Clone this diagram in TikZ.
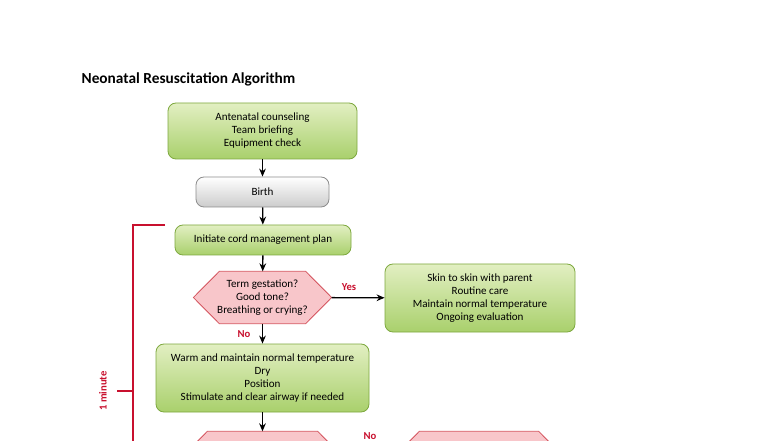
\documentclass[tikz,border=0pt]{standalone}
\usepackage{fontspec}
\setmainfont{Carlito}
\usetikzlibrary{calc,backgrounds,arrows.meta}
\definecolor{boxline}{HTML}{7DA83E}
\definecolor{boxtop}{HTML}{E2EFC2}
\definecolor{boxbot}{HTML}{A9D06C}
\definecolor{hexline}{HTML}{D4545E}
\definecolor{hexfill}{HTML}{F8C6CA}
\definecolor{alarm}{HTML}{C8102E}
\newcommand\hexoutline[1]{%
  \begin{scope}[on background layer]
    \draw[-,draw=hexline,line width=0.6pt,fill=hexfill]
      ($(#1.north west)+(26,0)$) -- ($(#1.north east)+(-26,0)$) -- (#1.east)
      -- ($(#1.south east)+(-26,0)$) -- ($(#1.south west)+(26,0)$) -- (#1.west) -- cycle;
  \end{scope}}
\begin{document}
\begin{tikzpicture}[x=0.75pt,y=-0.75pt,->,>={Stealth[length=6pt,width=5pt]},line width=1pt,
  font=\fontsize{8.3}{9.75}\selectfont]
    \tikzstyle{action}=[draw=boxline,line width=0.6pt,top color=boxtop,bottom color=boxbot,rounded corners=6pt,align=center,inner sep=0pt]
    \tikzstyle{grey action}=[action,draw=black!45,top color=white,bottom color=black!20]
    \tikzstyle{check}=[align=center,inner sep=0pt]
    \tikzstyle{answer}=[text=alarm,font=\fontsize{8}{9}\selectfont\bfseries]
    \useasboundingbox (0,0) rectangle (784,441);

    % Title
    \node[anchor=west,inner sep=0pt,font=\fontsize{11.5}{12}\selectfont\bfseries] (title) at (81,79) {Neonatal Resuscitation Algorithm};

    % Steps
    \node[action,minimum width=141.75pt,minimum height=42pt] (prep) at (262.5,131) {Antenatal counseling\\Team briefing\\Equipment check};
    \node[grey action,minimum width=99.75pt,minimum height=22.5pt] (birth) at (262.5,192) {Birth};
    \node[action,minimum width=132pt,minimum height=22.5pt] (cord) at (263,240) {Initiate cord management plan};
    \node[check,minimum width=102.75pt,minimum height=38.25pt] (term) at (262.5,297.5) {Term gestation?\\Good tone?\\Breathing or crying?};
    \hexoutline{term}
    \node[action,minimum width=142.5pt,minimum height=51pt] (skin) at (480,298) {Skin to skin with parent\\Routine care\\Maintain normal temperature\\Ongoing evaluation};
    \node[action,minimum width=159.75pt,minimum height=51pt] (warm) at (262.5,378) {Warm and maintain normal temperature\\Dry\\Position\\Stimulate and clear airway if needed};
    \node[check,minimum width=120.75pt,minimum height=38.25pt] (apnea) at (262.5,457.5) {};
    \hexoutline{apnea}
    \node[check,minimum width=127.5pt,minimum height=38.25pt] (breath) at (479,457.5) {};
    \hexoutline{breath}

    % Connectors
    \draw (prep) -- (birth);
    \draw (birth) -- (cord);
    \draw (cord) -- (term);
    \draw (term) -- (skin);
    \draw (term) -- (warm);
    \draw (warm) -- (apnea);
    \draw (apnea) -- (breath);

    % Answers
    \node[answer] (yes1) at (349,287) {Yes};
    \node[answer] (no1) at (244,334) {No};
    \node[answer] (no2) at (370,436) {No};

    % Time bracket
    \coordinate (bt) at (165,225);
    \coordinate (bc) at (133,225);
    \coordinate (bb) at (133,460);
    \coordinate (mt) at (117,391);
    \coordinate (mc) at (133,391);
    \draw[-,alarm] (bt) -- (bc) -- (bb);
    \draw[-,alarm] (mt) -- (mc);
    \node[answer,rotate=90] (minute) at (103,391) {1 minute};
\end{tikzpicture}
\end{document}
